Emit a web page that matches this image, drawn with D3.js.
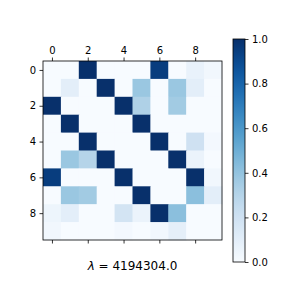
<!DOCTYPE html>
<html>
<head>
<meta charset="utf-8" />
<style>
  body { margin: 0; background: #fff; }
  text { font-family: 'DejaVu Sans', sans-serif; }
</style>
</head>
<body>
<div id="graph"></div>
<script src="https://cdnjs.cloudflare.com/ajax/libs/d3/7.8.5/d3.min.js"></script>
<script>
// matrix values, row by row
var rows = [0, 1, 2, 3, 4, 5, 6, 7, 8, 9];
var cols = [0, 1, 2, 3, 4, 5, 6, 7, 8, 9];
var values = [
  [0.0, 0.0, 1.0, 0.0, 0.0, 0.0, 0.95, 0.0, 0.07, 0.03],
  [0.0, 0.1, 0.0, 1.0, 0.0, 0.38, 0.0, 0.38, 0.1, 0.0],
  [1.0, 0.0, 0.0, 0.0, 1.0, 0.32, 0.0, 0.36, 0.0, 0.0],
  [0.0, 1.0, 0.0, 0.0, 0.0, 1.0, 0.0, 0.0, 0.0, 0.0],
  [0.0, 0.0, 1.0, 0.0, 0.0, 0.0, 1.0, 0.0, 0.2, 0.02],
  [0.0, 0.38, 0.3, 1.0, 0.0, 0.0, 0.0, 1.0, 0.06, 0.0],
  [0.95, 0.0, 0.0, 0.0, 1.0, 0.0, 0.0, 0.0, 1.0, 0.03],
  [0.0, 0.38, 0.36, 0.0, 0.0, 1.0, 0.0, 0.0, 0.42, 0.1],
  [0.05, 0.1, 0.0, 0.0, 0.18, 0.06, 1.0, 0.42, 0.0, 0.0],
  [0.03, 0.0, 0.0, 0.0, 0.02, 0.0, 0.03, 0.09, 0.0, 0.0]
];
var axisTicks = [0, 2, 4, 6, 8];
var cbarTicks = [0.0, 0.2, 0.4, 0.6, 0.8, 1.0];
var title = "4194304.0";

var W = 288, H = 288;
var plot = {left: 43, top: 61, size: 179};
var cbar = {left: 233, top: 39, width: 12, height: 223};

var svg = d3.select("#graph").append("svg")
    .attr("width", W).attr("height", H);

var x = d3.scaleBand().domain(cols).range([plot.left, plot.left + plot.size]);
var y = d3.scaleBand().domain(rows).range([plot.top, plot.top + plot.size]);
var color = d3.scaleSequential(d3.interpolateBlues).domain([0, 1]);

// cells
var cells = [];
values.forEach(function(r, i) {
  r.forEach(function(v, j) { cells.push({r: i, c: j, v: v}); });
});
svg.append("g").selectAll("rect")
    .data(cells)
  .enter().append("rect")
    .attr("x", function(d) { return x(d.c); })
    .attr("y", function(d) { return y(d.r); })
    .attr("width", x.bandwidth() + 0.5)
    .attr("height", y.bandwidth() + 0.5)
    .attr("fill", function(d) { return color(d.v); });

// axes on top, bottom (no labels), left
var xc = d3.scalePoint().domain(cols).range([plot.left + x.bandwidth() / 2, plot.left + plot.size - x.bandwidth() / 2]);
var yc = d3.scalePoint().domain(rows).range([plot.top + y.bandwidth() / 2, plot.top + plot.size - y.bandwidth() / 2]);

function style(g) {
  g.select(".domain").remove();
  g.selectAll("line").attr("stroke", "#000").attr("stroke-width", 0.8);
  g.selectAll("text").attr("font-size", 10).attr("fill", "#000").attr("font-family", "'DejaVu Sans', sans-serif");
}
svg.append("g").attr("transform", "translate(0," + plot.top + ")")
  .call(d3.axisTop(xc).tickValues(axisTicks).tickSize(3.5).tickPadding(3.5)).call(style);
svg.append("g").attr("transform", "translate(0," + (plot.top + plot.size) + ")")
  .call(d3.axisBottom(xc).tickValues(axisTicks).tickSize(3.5).tickFormat("")).call(style);
svg.append("g").attr("transform", "translate(" + plot.left + ",0)")
  .call(d3.axisLeft(yc).tickValues(axisTicks).tickSize(3.5).tickPadding(3.5)).call(style);

svg.append("rect")
    .attr("x", plot.left).attr("y", plot.top)
    .attr("width", plot.size).attr("height", plot.size)
    .attr("fill", "none").attr("stroke", "#000").attr("stroke-width", 0.8);

// colorbar
var defs = svg.append("defs");
var grad = defs.append("linearGradient").attr("id", "cb")
    .attr("x1", 0).attr("y1", 1).attr("x2", 0).attr("y2", 0);
d3.range(0, 1.0001, 0.05).forEach(function(t) {
  grad.append("stop").attr("offset", t).attr("stop-color", color(t));
});
var cy = d3.scaleLinear().domain([0, 1]).range([cbar.top + cbar.height, cbar.top]);
svg.append("rect")
    .attr("x", cbar.left).attr("y", cbar.top)
    .attr("width", cbar.width).attr("height", cbar.height)
    .attr("fill", "url(#cb)").attr("stroke", "#000").attr("stroke-width", 0.8);
svg.append("g").attr("transform", "translate(" + (cbar.left + cbar.width) + ",0)")
  .call(d3.axisRight(cy).tickValues(cbarTicks).tickFormat(d3.format(".1f")).tickSize(3.5).tickPadding(3.5))
  .call(style);

// title below
var t = svg.append("text")
    .attr("x", plot.left + plot.size / 2).attr("y", 270)
    .attr("text-anchor", "middle").attr("font-size", 12).attr("fill", "#000");
t.append("tspan").attr("font-style", "italic").attr("font-family", "'DejaVu Sans', sans-serif").text("λ");
t.append("tspan").text(" = " + title);
</script>
</body>
</html>
